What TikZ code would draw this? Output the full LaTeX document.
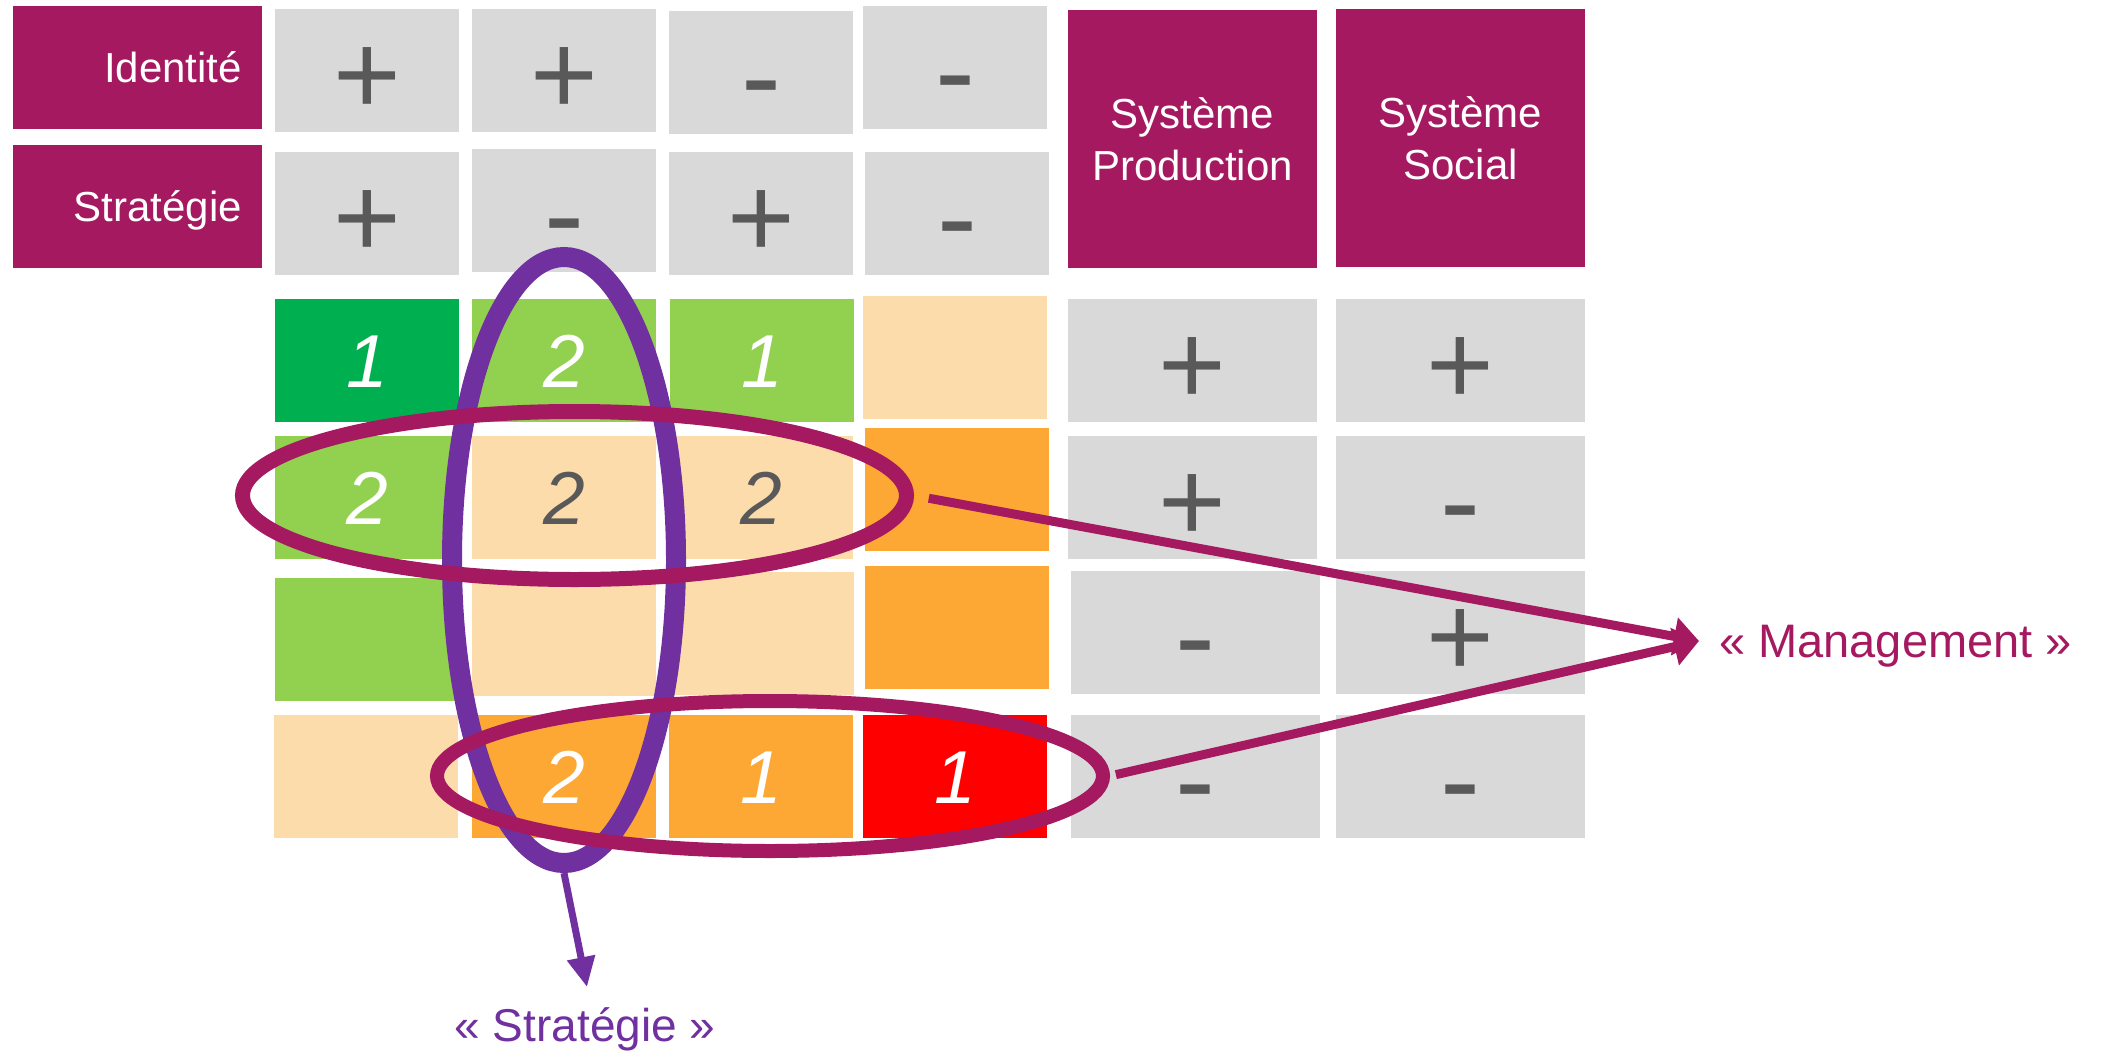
\documentclass[tikz,border=0pt]{standalone}
\usepackage{fontspec}
\setmainfont{Liberation Sans}
\usetikzlibrary{shapes.geometric,arrows.meta}
\definecolor{mag}{RGB}{165,25,96}
\definecolor{purp}{RGB}{112,48,160}
\definecolor{cellgray}{RGB}{217,217,217}
\definecolor{signgray}{RGB}{89,89,89}
\definecolor{dkgreen}{RGB}{0,176,80}
\definecolor{ltgreen}{RGB}{146,208,80}
\definecolor{peach}{RGB}{253,220,172}
\definecolor{orng}{RGB}{253,167,53}
\definecolor{redc}{RGB}{255,0,0}
\begin{document}
\begin{tikzpicture}[x=1pt,y=-1pt,
  cell/.style={rectangle, inner sep=0pt, minimum width=184pt, minimum height=123pt},
  wide/.style={cell, minimum width=249pt},
  pcell/.style={fill=cellgray, text=signgray, font=\fontsize{116}{116}\selectfont, text height=88pt, text depth=0pt},
  mcell/.style={fill=cellgray, text=signgray, font=\fontsize{120}{120}\selectfont, text height=90pt, text depth=0pt},
  num/.style={font=\fontsize{75}{75}\selectfont\itshape, text=white, text height=54pt, text depth=0pt},
  gnum/.style={num, text=signgray},
  rowhead/.style={wide, fill=mag, text=white, font=\fontsize{42}{52}\selectfont, text width=209pt, align=right, inner xsep=20pt, text height=30pt, text depth=0pt},
  colhead/.style={wide, minimum height=258pt, fill=mag, text=white, font=\fontsize{42}{52}\selectfont, align=center},
  ring/.style={ellipse, inner sep=0pt, draw},
  magarrow/.style={draw=mag, line width=9pt, -{Triangle[length=25pt,width=37pt]}},
  purparrow/.style={draw=purp, line width=7pt, -{Triangle[length=30pt,width=27pt]}},
  callout/.style={inner sep=0pt, text depth=0pt}
]
\useasboundingbox (0,0) rectangle (2108,1054);

% headers
\node[rowhead] (idt) at (137.5,67.5) {Identité};
\node[rowhead] (str) at (137.5,206.5) {Stratégie};
\node[colhead] (sysP) at (1192.5,139) {Système\\Production};
\node[colhead] (sysS) at (1460.5,138) {Système\\Social};

% identity row
\node[cell,pcell] (a1) at (367,70.5) {+};
\node[cell,pcell] (a2) at (564,70.5) {+};
\node[cell,mcell] (a3) at (761,72.5) {-};
\node[cell,mcell] (a4) at (955,67.5) {-};
% strategy row
\node[cell,pcell] (b1) at (367,213.5) {+};
\node[cell,mcell] (b2) at (564,210.5) {-};
\node[cell,pcell] (b3) at (761,213.5) {+};
\node[cell,mcell] (b4) at (957,213.5) {-};

% colour matrix
\node[cell,fill=dkgreen,num] (m11) at (367,360.5) {1};
\node[cell,fill=ltgreen,num] (m12) at (564,360.5) {2};
\node[cell,fill=ltgreen,num] (m13) at (762,360.5) {1};
\node[cell,fill=peach] (m14) at (955,357.5) {};

\node[cell,fill=ltgreen,num] (m21) at (367,497.5) {2};
\node[cell,fill=peach,gnum] (m22) at (564,497.5) {2};
\node[cell,fill=peach,gnum] (m23) at (761,497.5) {2};
\node[cell,fill=orng] (m24) at (957,489.5) {};

\node[cell,fill=ltgreen] (m31) at (367,639.5) {};
\node[cell,fill=peach] (m32) at (564,634.5) {};
\node[cell,fill=peach] (m33) at (762,633.5) {};
\node[cell,fill=orng] (m34) at (957,627.5) {};

\node[cell,fill=peach] (m41) at (366,776.5) {};
\node[cell,fill=orng,num] (m42) at (564,776.5) {2};
\node[cell,fill=orng,num] (m43) at (761,776.5) {1};
\node[cell,fill=redc,num] (m44) at (955,776.5) {1};

% system columns
\node[wide,pcell] (p1) at (1192.5,360.5) {+};
\node[wide,pcell] (s1) at (1460.5,360.5) {+};
\node[wide,pcell] (p2) at (1192.5,497.5) {+};
\node[wide,mcell] (s2) at (1460.5,497.5) {-};
\node[wide,mcell] (p3) at (1195.5,632.5) {-};
\node[wide,pcell] (s3) at (1460.5,632.5) {+};
\node[wide,mcell] (p4) at (1195.5,776.5) {-};
\node[wide,mcell] (s4) at (1460.5,776.5) {-};

% strategy ring and arrow
\node[ring, draw=purp, line width=20pt, minimum width=224pt, minimum height=606pt] (ellP) at (564,560) {};
\node[callout, text=purp, font=\fontsize{46}{46}\selectfont, text height=33pt] (stratLbl) at (585,1025) {« Stratégie »};
\coordinate (stip) at (587,987);
\draw[purparrow] (ellP.south) -- (stip);

% management rings and arrows
\node[ring, draw=mag, line width=15pt, minimum width=664pt, minimum height=168pt] (ellU) at (574.5,495.5) {};
\node[ring, draw=mag, line width=14pt, minimum width=666pt, minimum height=150pt] (ellL) at (770,776) {};
\node[callout, anchor=west, text=mag, font=\fontsize{47}{47}\selectfont, text height=33.6pt] (mgmt) at (1719,640.5) {« Management »};
\coordinate (mtip) at (1699,641);
\draw[magarrow, shorten <=15pt] (ellU.east) -- (mtip);
\draw[magarrow, shorten <=6pt] (ellL.east) -- (mtip);
\end{tikzpicture}
\end{document}
